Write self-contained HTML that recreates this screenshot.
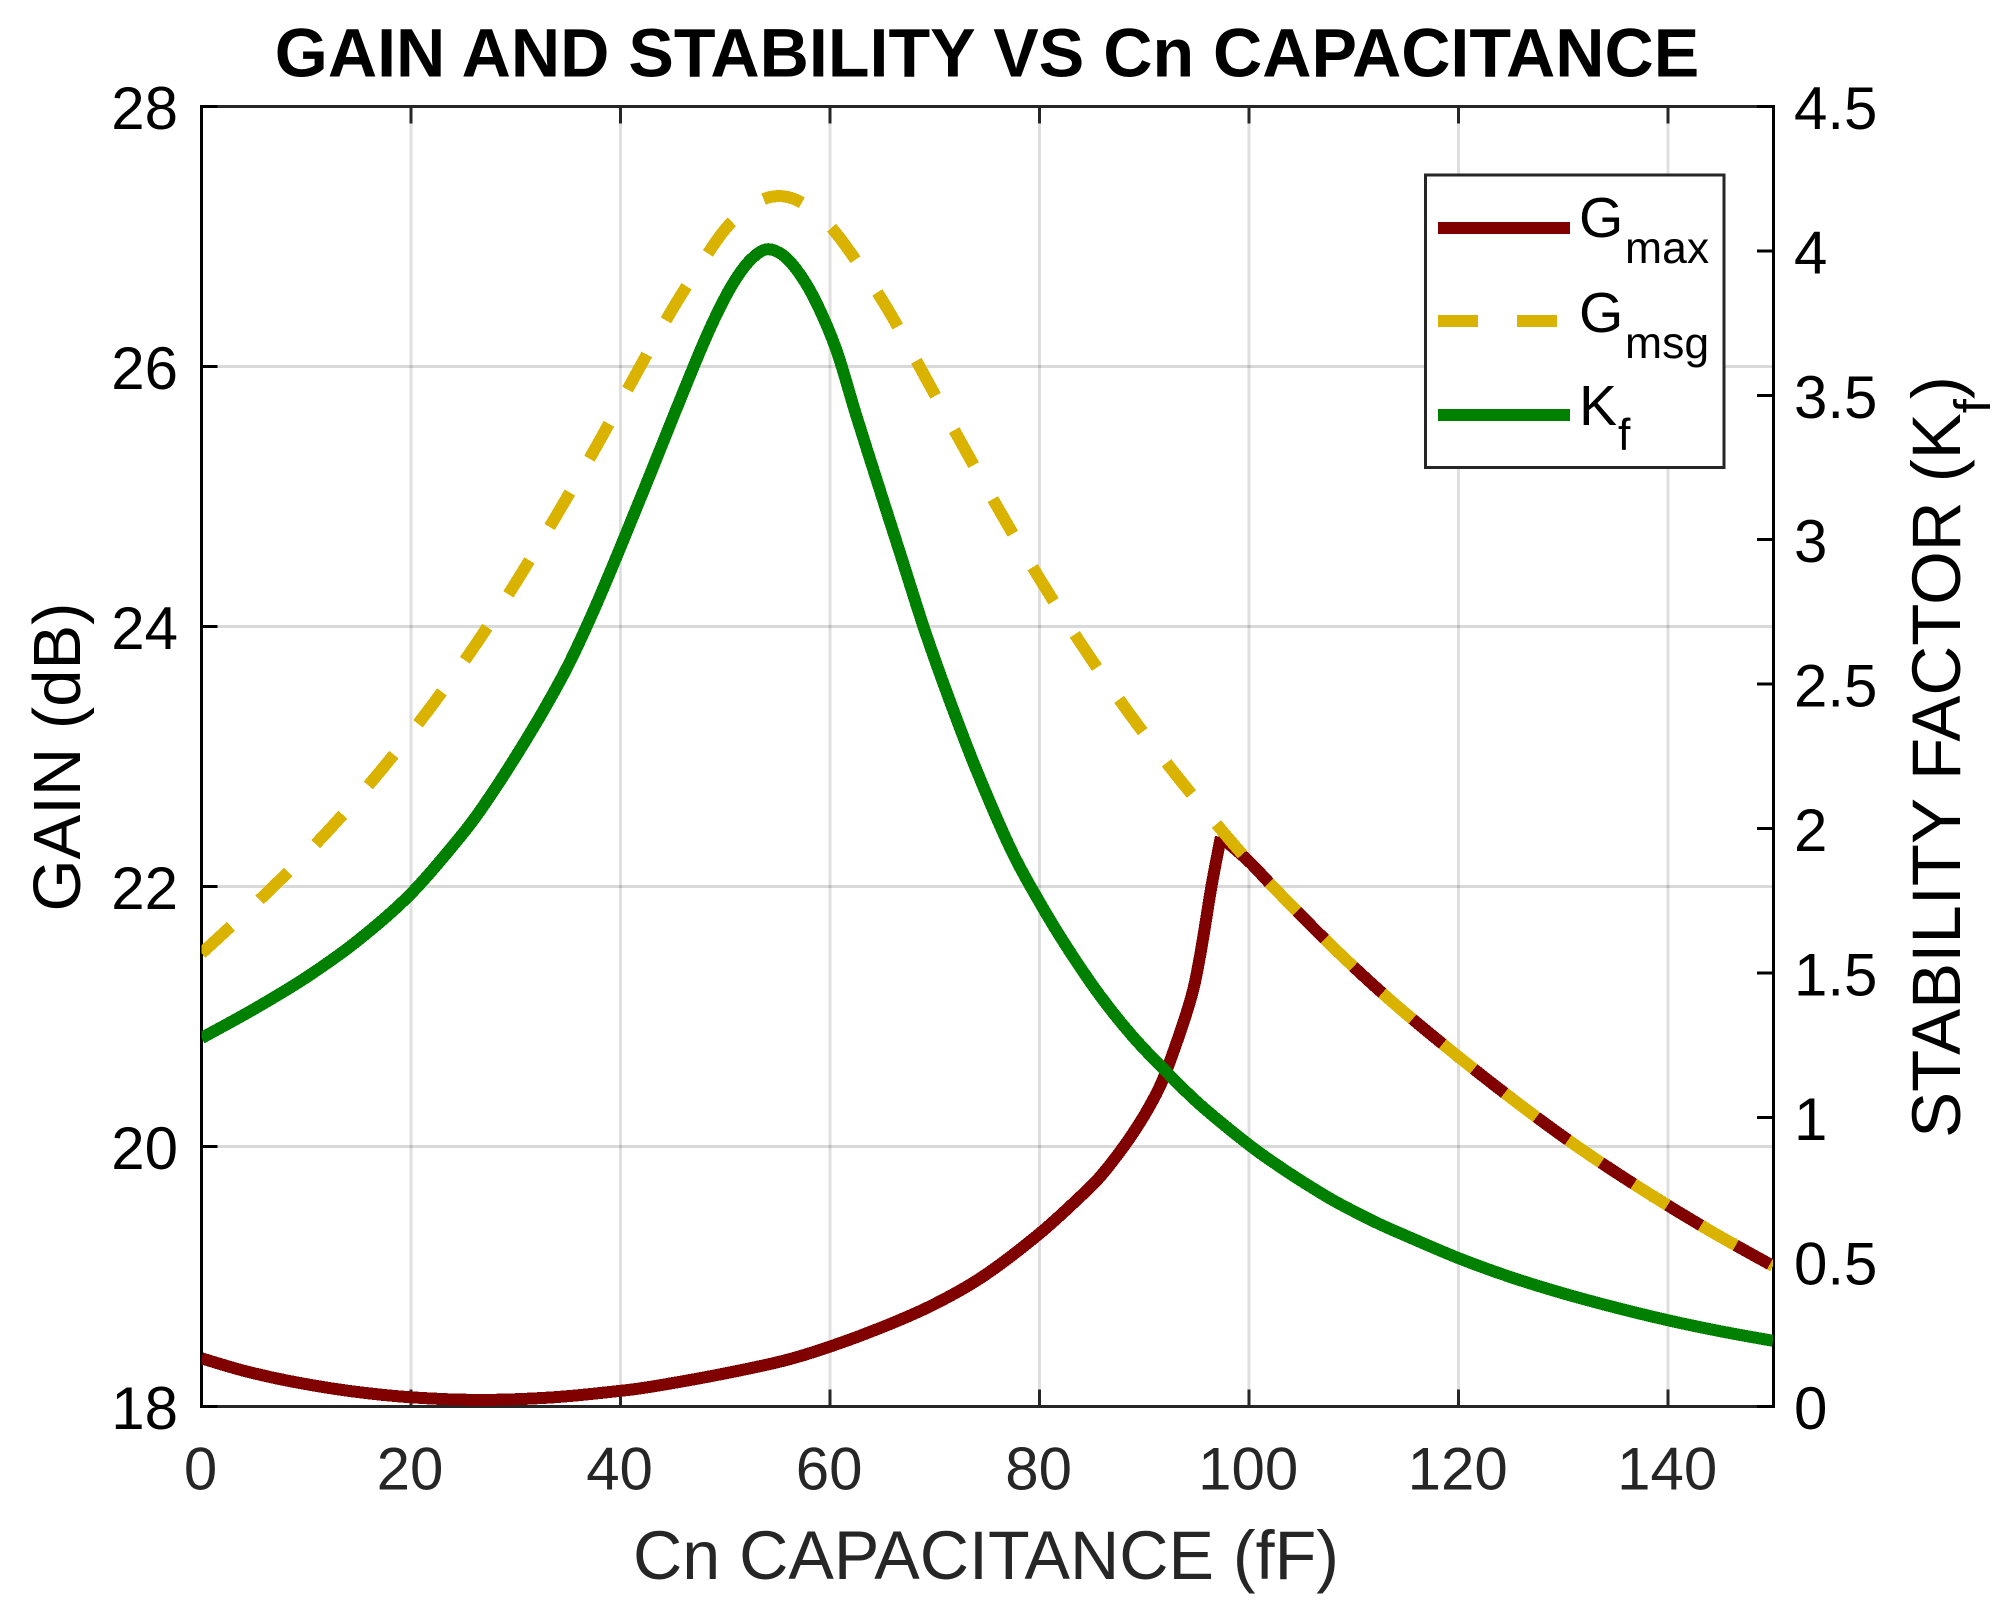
<!DOCTYPE html>
<html lang="en">
<head>
<meta charset="utf-8">
<title>Gain and Stability vs Cn Capacitance</title>
<style>
  html, body { margin: 0; padding: 0; background: #fff; }
  svg { display: block; font-family: "Liberation Sans", Arial, sans-serif; }
</style>
</head>
<body>
<svg id="chart" xmlns="http://www.w3.org/2000/svg" width="2011" height="1615" viewBox="0 0 2011 1615">
  <defs>
    <clipPath id="plot-clip"><rect x="201.5" y="106.4" width="1571.5" height="1300"/></clipPath>
  </defs>
  <rect x="0" y="0" width="2011" height="1615" fill="#fff"/>
  <g id="grid"></g>
  <g id="axes"></g>
  <g id="series" clip-path="url(#plot-clip)"></g>
  <g id="ticklabels"></g>

  <text x="987" y="76.5" text-anchor="middle" font-size="68.2" font-weight="bold" fill="#000">GAIN AND STABILITY VS Cn CAPACITANCE</text>
  <text x="986" y="1579" text-anchor="middle" font-size="68.2" fill="#262626">Cn CAPACITANCE (fF)</text>
  <text transform="translate(80 757) rotate(-90)" text-anchor="middle" font-size="67" fill="#000">GAIN (dB)</text>
  <text transform="translate(1960 757) rotate(-90)" text-anchor="middle" font-size="69" fill="#000">STABILITY FACTOR (K<tspan font-size="51" dy="30">f</tspan><tspan dy="-30">)</tspan></text>

  <g>
    <rect x="1425.5" y="175" width="298.5" height="292.5" fill="#fff" stroke="#262626" stroke-width="3" shape-rendering="crispEdges"/>
    <line x1="1438" y1="228" x2="1570" y2="228" stroke="#800000" stroke-width="12" shape-rendering="crispEdges"/>
    <line x1="1438" y1="321" x2="1570" y2="321" stroke="#d9b300" stroke-width="12" stroke-dasharray="40 39" shape-rendering="crispEdges"/>
    <line x1="1438" y1="415" x2="1570" y2="415" stroke="#008000" stroke-width="12" shape-rendering="crispEdges"/>
    <text x="1579" y="237" font-size="57" fill="#000">G<tspan x="1625" y="263" font-size="44.5">max</tspan></text>
    <text x="1579" y="332" font-size="57" fill="#000">G<tspan x="1625" y="358" font-size="44.5">msg</tspan></text>
    <text x="1579" y="425" font-size="57" fill="#000">K<tspan x="1618" y="450" font-size="44.5">f</tspan></text>
  </g>
</svg>
<script>
const xTicks = [0, 20, 40, 60, 80, 100, 120, 140];
const leftTicks = [18, 20, 22, 24, 26, 28];
const rightTicks = [0, 0.5, 1, 1.5, 2, 2.5, 3, 3.5, 4, 4.5];

const gmaxX = [0, 4, 8.4, 14, 20, 26.7, 33.6, 40, 42.8, 49.1, 55.5, 60, 65, 69.8, 74.6, 80, 84.1, 85.7, 87.3, 88.9, 90.5, 92, 94.3, 95.3, 96.4, 97.3, 100, 102.6, 107.9, 113.4, 119.2, 125.2, 131.3, 137.5, 143.8, 150];
const gmaxValues = [18.37, 18.275, 18.195, 18.12, 18.07, 18.05, 18.07, 18.12, 18.15, 18.24, 18.35, 18.46, 18.61, 18.78, 19.0, 19.33, 19.63, 19.76, 19.92, 20.1, 20.31, 20.56, 21.1, 21.46, 22.0, 22.38, 22.19, 21.97, 21.54, 21.13, 20.74, 20.36, 20.0, 19.67, 19.36, 19.08];

const gmsgX = [0, 2.5, 6.75, 12, 16.9, 21.6, 26, 30.1, 34, 37.8, 41.4, 45.1, 49.1, 51, 53.2, 55, 56.8, 58.8, 61.1, 65.2, 68.8, 72.4, 76.1, 79.9, 84, 88.2, 92.8, 97.5, 100, 102.6, 107.9, 113.4, 119.2, 125.2, 131.3, 137.5, 143.8, 150];
const gmsgValues = [21.485, 21.67, 21.99, 22.42, 22.87, 23.35, 23.84, 24.35, 24.87, 25.4, 25.93, 26.46, 26.96, 27.14, 27.27, 27.31, 27.28, 27.17, 26.97, 26.48, 25.96, 25.43, 24.9, 24.38, 23.86, 23.37, 22.88, 22.42, 22.19, 21.97, 21.54, 21.13, 20.74, 20.36, 20.0, 19.67, 19.36, 19.08];

const kfX = [0, 5, 10, 15, 20, 25, 27.5, 30, 32.5, 35, 37.5, 40, 42.5, 45, 47.5, 49.1, 50.7, 52.3, 53.9, 55.5, 57.1, 58.7, 60.6, 62.5, 64.9, 66.8, 69, 71.4, 74, 77.3, 80, 82.6, 85.7, 88.9, 92.1, 95.3, 100, 102.9, 105, 107.7, 110, 112.5, 115, 120, 125, 130, 135, 140, 145, 150];
const kfValues = [1.275, 1.375, 1.485, 1.615, 1.775, 1.985, 2.11, 2.25, 2.4, 2.565, 2.76, 2.975, 3.197, 3.423, 3.645, 3.775, 3.885, 3.965, 4.005, 3.985, 3.92, 3.82, 3.657, 3.43, 3.155, 2.94, 2.69, 2.445, 2.2, 1.925, 1.745, 1.59, 1.425, 1.28, 1.158, 1.045, 0.905, 0.83, 0.78, 0.72, 0.675, 0.63, 0.59, 0.513, 0.447, 0.391, 0.342, 0.298, 0.26, 0.227];

const NS = 'http://www.w3.org/2000/svg';
const plotLeft = 201.5, plotRight = 1773, plotTop = 106.4, plotBottom = 1406.4;
const sx = function (v) { return plotLeft + (v - 0) / 150 * (plotRight - plotLeft); };
const syLeft = function (v) { return plotBottom - (v - 18) / 10 * (plotBottom - plotTop); };
const syRight = function (v) { return plotBottom - (v - 0) / 4.5 * (plotBottom - plotTop); };

function make(tag, parent) {
  const el = document.createElementNS(NS, tag);
  parent.appendChild(el);
  return el;
}
function drawLine(parent, x1, y1, x2, y2, color, width, opacity) {
  const el = make('line', parent);
  el.setAttribute('x1', x1);
  el.setAttribute('y1', y1);
  el.setAttribute('x2', x2);
  el.setAttribute('y2', y2);
  el.setAttribute('stroke', color);
  el.setAttribute('stroke-width', width);
  if (opacity) el.setAttribute('stroke-opacity', opacity);
  el.setAttribute('shape-rendering', 'crispEdges');
  return el;
}
function drawLabel(parent, x, y, str, anchor, color) {
  const el = make('text', parent);
  el.setAttribute('x', x);
  el.setAttribute('y', y);
  el.setAttribute('text-anchor', anchor);
  el.setAttribute('font-size', '60');
  el.setAttribute('fill', color);
  el.textContent = str;
  return el;
}
/* Smooth curve through screen points (Catmull-Rom converted to cubic Beziers). */
function smoothRun(pts) {
  let d = '';
  for (let i = 0; i < pts.length - 1; i++) {
    const p0 = pts[Math.max(i - 1, 0)];
    const p1 = pts[i];
    const p2 = pts[i + 1];
    const p3 = pts[Math.min(i + 2, pts.length - 1)];
    const c1x = p1[0] + (p2[0] - p0[0]) / 6;
    const c1y = p1[1] + (p2[1] - p0[1]) / 6;
    const c2x = p2[0] - (p3[0] - p1[0]) / 6;
    const c2y = p2[1] - (p3[1] - p1[1]) / 6;
    d += (i === 0 ? 'M' + p1[0].toFixed(2) + ' ' + p1[1].toFixed(2) : '') +
      'C' + c1x.toFixed(2) + ' ' + c1y.toFixed(2) + ' ' + c2x.toFixed(2) + ' ' + c2y.toFixed(2) + ' ' + p2[0].toFixed(2) + ' ' + p2[1].toFixed(2);
  }
  return d;
}
function drawSeries(parent, xs, ys, scaleY, color, dash, cuspAtMax) {
  const el = make('path', parent);
  const pts = xs.map(function (x, i) { return [sx(x), scaleY(ys[i])]; });
  let d;
  if (cuspAtMax) {
    const k = ys.indexOf(Math.max.apply(null, ys));
    d = smoothRun(pts.slice(0, k + 1)) + smoothRun(pts.slice(k));
  } else {
    d = smoothRun(pts);
  }
  el.setAttribute('d', d);
  el.setAttribute('fill', 'none');
  el.setAttribute('stroke', color);
  el.setAttribute('stroke-width', '12');
  el.setAttribute('stroke-linejoin', 'round');
  el.setAttribute('shape-rendering', 'crispEdges');
  if (dash) el.setAttribute('stroke-dasharray', dash);
  return el;
}

const gridG = document.getElementById('grid');
const axesG = document.getElementById('axes');
const labelsG = document.getElementById('ticklabels');
const seriesG = document.getElementById('series');

xTicks.forEach(function (t) {
  if (t === 0) return;
  const g = drawLine(gridG, sx(t), plotTop, sx(t), plotBottom, '#262626', 3, 0.15);
  
  
});
leftTicks.forEach(function (t) {
  if (t === 18 || t === 28) return;
  const g = drawLine(gridG, plotLeft, syLeft(t), plotRight, syLeft(t), '#000', 3, 0.15);
  
  
});

const topAxis = drawLine(axesG, plotLeft, plotTop, plotRight, plotTop, '#262626', 3);


const bottomAxis = drawLine(axesG, plotLeft, plotBottom, plotRight, plotBottom, '#262626', 3);



xTicks.forEach(function (t) {
  const a = drawLine(axesG, sx(t), plotBottom, sx(t), plotBottom - 17, '#262626', 3);
  
  
  const b = drawLine(axesG, sx(t), plotTop, sx(t), plotTop + 17, '#262626', 3);
  
  
  const l = drawLabel(labelsG, sx(t) - 1, 1489.5, String(t), 'middle', '#262626');
  
  
});
leftTicks.forEach(function (t) {
  const a = drawLine(axesG, plotLeft, syLeft(t), plotLeft + 16, syLeft(t), '#000', 3);
  
  
  const l = drawLabel(labelsG, 178, syLeft(t) + 22.5, String(t), 'end', '#000');
  
  
});
rightTicks.forEach(function (t) {
  const a = drawLine(axesG, plotRight - 16, syRight(t), plotRight, syRight(t), '#000', 3);
  
  
  const l = drawLabel(labelsG, 1794, syRight(t) + 22.5, String(t), 'start', '#000');
  
  
});

const leftAxis = drawLine(axesG, plotLeft, plotTop - 1.5, plotLeft, plotBottom + 1.5, '#000', 3);


const rightAxis = drawLine(axesG, plotRight + 0.5, plotTop - 1.5, plotRight + 0.5, plotBottom + 1.5, '#000', 3);



const gmaxLine = drawSeries(seriesG, gmaxX, gmaxValues, syLeft, '#800000', null, true);


const gmsgLine = drawSeries(seriesG, gmsgX, gmsgValues, syLeft, '#d9b300', '40 39', false);


const kfLine = drawSeries(seriesG, kfX, kfValues, syRight, '#008000', null, false);


</script>
</body>
</html>
